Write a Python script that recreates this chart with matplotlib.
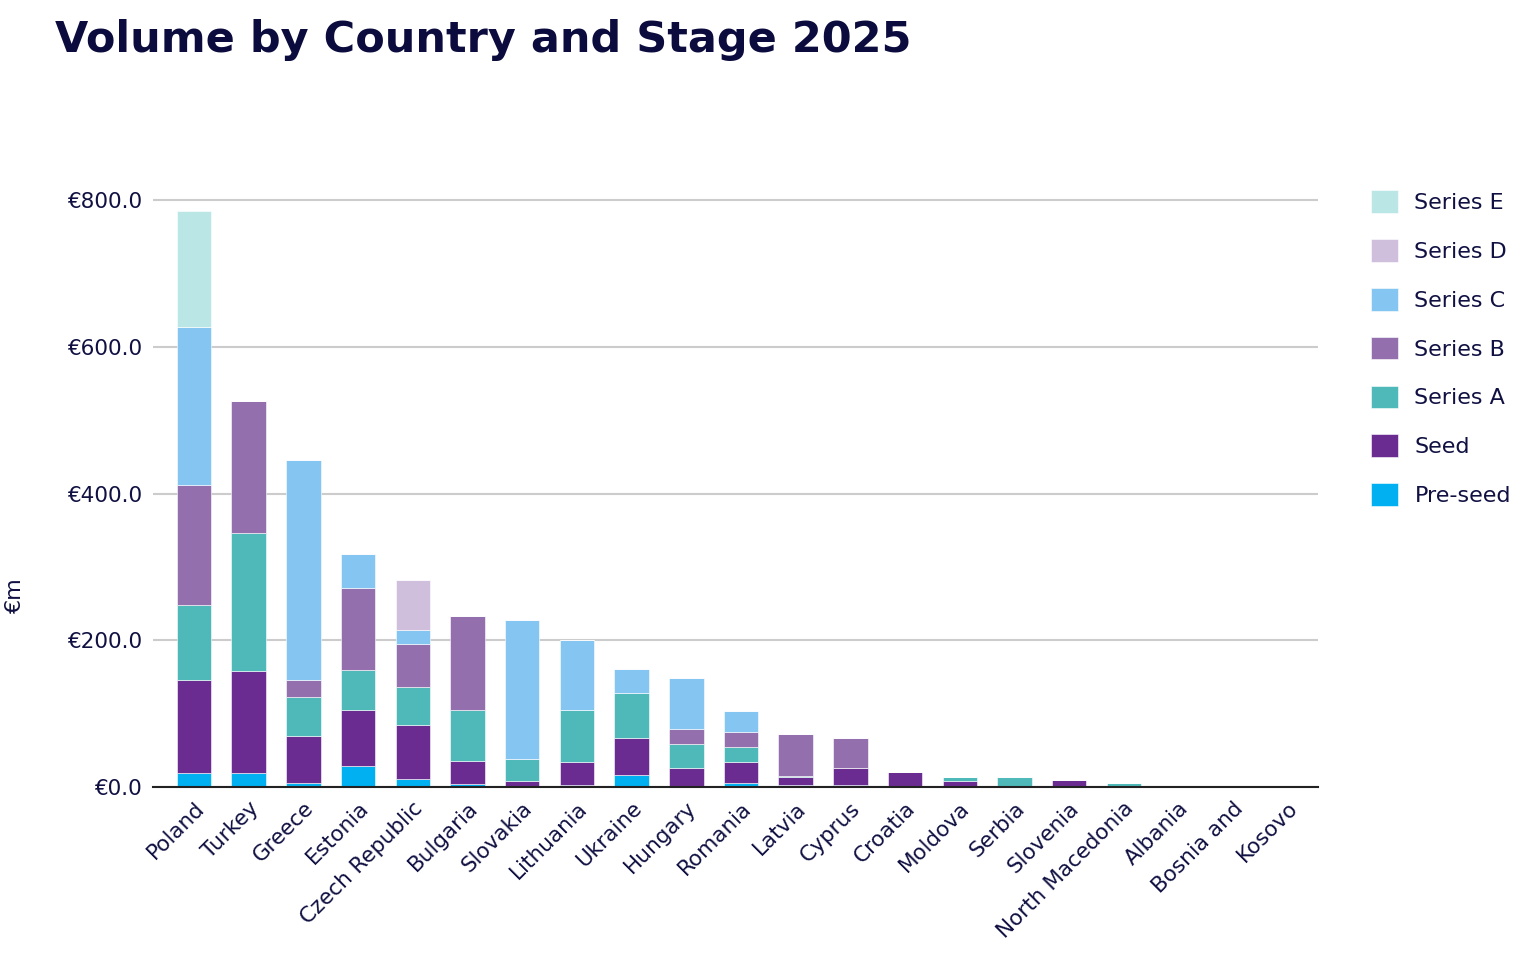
import numpy as np
import matplotlib
matplotlib.use("Agg")
import matplotlib.pyplot as plt

countries = ["Poland", "Turkey", "Greece", "Estonia", "Czech Republic", "Bulgaria",
             "Slovakia", "Lithuania", "Ukraine", "Hungary", "Romania", "Latvia",
             "Cyprus", "Croatia", "Moldova", "Serbia", "Slovenia", "North Macedonia",
             "Albania", "Bosnia and", "Kosovo"]

pre_seed = [19, 19, 5, 29, 11, 4, 0, 3, 16, 0, 6, 3, 3, 0, 0, 2, 0, 0, 0, 0, 0]
seed     = [127, 139, 65, 76, 74, 32, 8, 31, 51, 26, 28, 10, 23, 21, 8, 0, 9, 0, 0, 0, 0]
series_a = [102, 188, 53, 54, 51, 69, 30, 71, 61, 33, 21, 2, 0, 0, 6, 12, 0, 6, 0, 0, 0]
series_b = [164, 181, 23, 112, 59, 128, 0, 0, 0, 20, 20, 57, 41, 0, 0, 0, 0, 0, 0, 0, 0]
series_c = [215, 0, 300, 47, 19, 0, 190, 95, 33, 70, 28, 0, 0, 0, 0, 0, 0, 0, 0, 0, 0]
series_d = [0, 0, 0, 0, 68, 0, 0, 0, 0, 0, 0, 0, 0, 0, 0, 0, 0, 0, 0, 0, 0]
series_e = [158, 0, 0, 0, 0, 0, 0, 0, 0, 0, 0, 0, 0, 0, 0, 0, 0, 0, 0, 0, 0]

stages = ["Pre-seed", "Seed", "Series A", "Series B", "Series C", "Series D", "Series E"]
values = [pre_seed, seed, series_a, series_b, series_c, series_d, series_e]
colors = ["#00B0F0", "#6B2C91", "#4FB9B9", "#9370AD", "#85C5F2", "#D0BEDD", "#BBE6E6"]

text_color = "#101042"

fig = plt.figure(figsize=(15.3, 9.76), dpi=100)
ax = fig.add_axes([153 / 1530, 1 - 787 / 976, 1165 / 1530, 660 / 976])

x = np.arange(len(countries))
bottom = np.zeros(len(countries))
for name, vals, col in zip(stages, values, colors):
    vals = np.array(vals, dtype=float)
    ax.bar(x, vals, width=0.63, bottom=bottom, color=col, label=name,
           edgecolor="white", linewidth=0.4, zorder=3)
    bottom += vals

ax.set_xlim(-0.75, 20.55)
ax.set_ylim(0, 900)
ax.set_yticks([0, 200, 400, 600, 800])
ax.set_yticklabels([f"€{v:.1f}" for v in [0, 200, 400, 600, 800]])
ax.set_xticks(x)
ax.set_xticklabels(countries, rotation=45, ha="right", rotation_mode="anchor")
ax.tick_params(axis="both", length=0, labelsize=15.5, colors=text_color, pad=8)
ax.grid(axis="y", color="#CCCCCC", linewidth=1.5, zorder=0)
for s in ["top", "right", "left"]:
    ax.spines[s].set_visible(False)
ax.spines["bottom"].set_color("#222222")
ax.spines["bottom"].set_linewidth(1.5)
ax.spines["bottom"].set_zorder(4)

ax.set_ylabel("€m", fontsize=16, color=text_color)
ax.yaxis.set_label_coords(-0.11, 0.29)

handles, labels = ax.get_legend_handles_labels()
leg = ax.legend(handles[::-1], labels[::-1], loc="upper left",
                bbox_to_anchor=(1.038, 0.918), frameon=False, fontsize=16,
                handlelength=1.2, handleheight=1.2, labelspacing=1.17,
                handletextpad=0.75, borderaxespad=0)
for t in leg.get_texts():
    t.set_color(text_color)

fig.text(55 / 1530, 1 - 40 / 976, "Volume by Country and Stage 2025",
         fontsize=31, fontweight="bold", family=["DejaVu Sans"],
         color="#0B0B3E", va="center", ha="left")

fig.savefig("out.png", dpi=100)
